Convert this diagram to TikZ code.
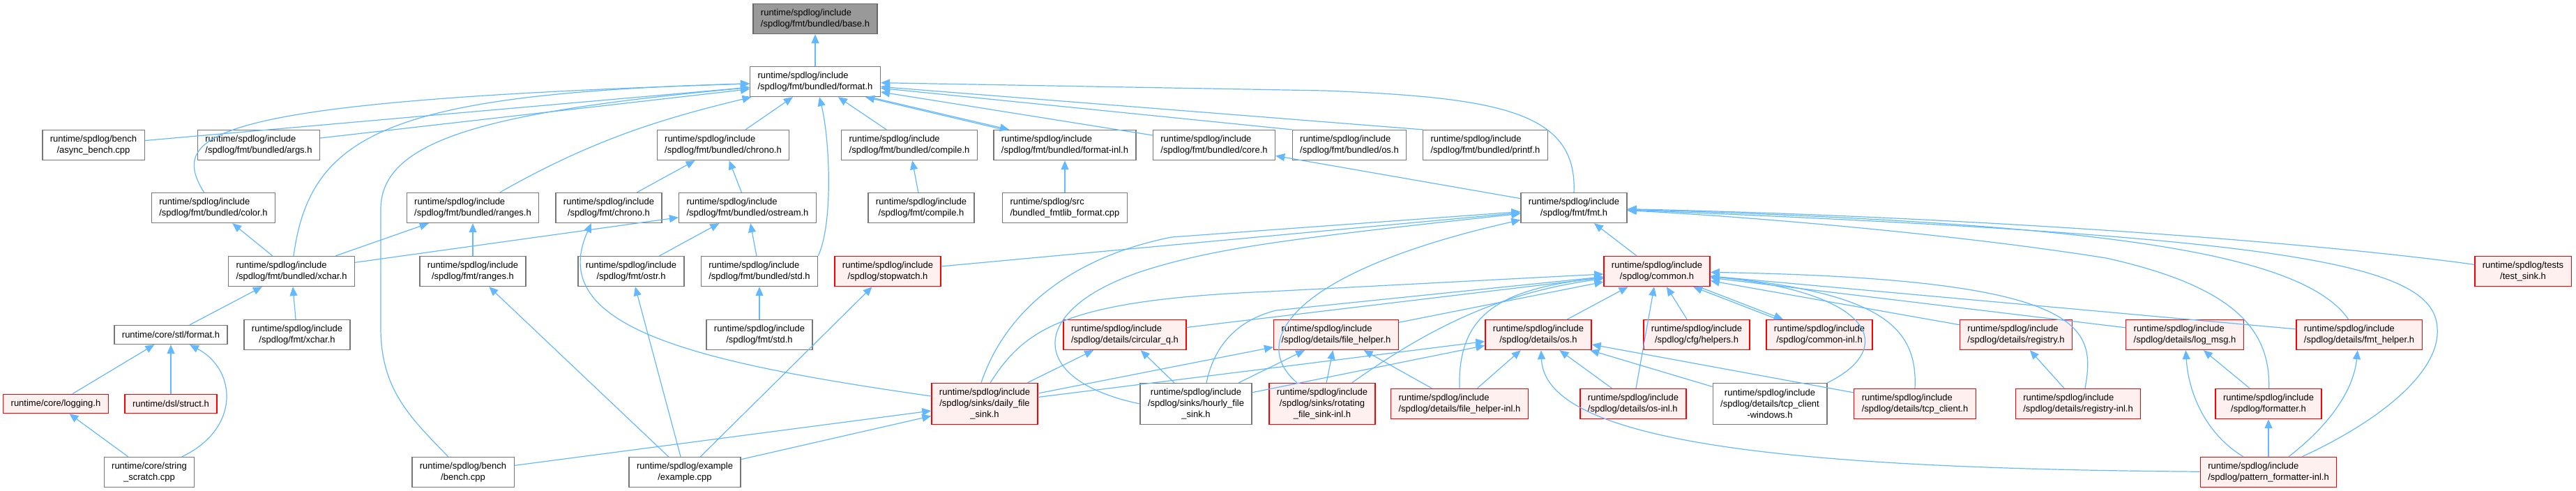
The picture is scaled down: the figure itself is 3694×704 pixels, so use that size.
\documentclass[tikz,border=0pt]{standalone}
\usepackage{fontspec}
\setmainfont{Liberation Sans}
\usetikzlibrary{arrows.meta}
\definecolor{edgeblue}{HTML}{63B8FF}
\definecolor{nodegray}{HTML}{777777}
\definecolor{redfill}{HTML}{FFF0F0}
\definecolor{mainfill}{HTML}{999999}
\definecolor{mainline}{HTML}{666666}
\begin{document}
\begin{tikzpicture}[x=1pt, y=-1pt,
  file/.style={draw=nodegray, fill=white, line width=1.3pt, inner xsep=11pt, inner ysep=0pt, minimum height=43pt, align=center, font=\fontsize{13}{16}\selectfont},
  redfile/.style={file, draw=red, fill=redfill},
  mainfile/.style={file, draw=mainline, fill=mainfill},
  oneline/.style={minimum height=27pt},
  threeline/.style={minimum height=59pt},
  dep/.style={draw=edgeblue, line width=1.2pt, -{Triangle[length=13pt,width=11pt]}}]
\useasboundingbox (0,0) rectangle (3694,704);
% rank 1 and 2
\node[mainfile, align=left] (base) at (1169,27) {runtime/spdlog/include\\/spdlog/fmt/bundled/base.h};
\node[file, align=left] (format) at (1169,117) {runtime/spdlog/include\\/spdlog/fmt/bundled/format.h};
% rank 3
\node[file] (asyncb) at (134,208) {runtime/spdlog/bench\\/async\_bench.cpp};
\node[file, align=left] (args) at (371,208) {runtime/spdlog/include\\/spdlog/fmt/bundled/args.h};
\node[file, align=left] (bchrono) at (1037,208) {runtime/spdlog/include\\/spdlog/fmt/bundled/chrono.h};
\node[file, align=left] (bcompile) at (1304,208) {runtime/spdlog/include\\/spdlog/fmt/bundled/compile.h};
\node[file, align=left] (formatinl) at (1527,208) {runtime/spdlog/include\\/spdlog/fmt/bundled/format-inl.h};
\node[file, align=left] (core) at (1741,208) {runtime/spdlog/include\\/spdlog/fmt/bundled/core.h};
\node[file, align=left] (bos) at (1935,208) {runtime/spdlog/include\\/spdlog/fmt/bundled/os.h};
\node[file, align=left] (printf) at (2130,208) {runtime/spdlog/include\\/spdlog/fmt/bundled/printf.h};
% rank 4
\node[file, align=left] (color) at (306,298) {runtime/spdlog/include\\/spdlog/fmt/bundled/color.h};
\node[file, align=left] (branges) at (678,298) {runtime/spdlog/include\\/spdlog/fmt/bundled/ranges.h};
\node[file] (fchrono) at (873,298) {runtime/spdlog/include\\/spdlog/fmt/chrono.h};
\node[file, align=left] (ostream) at (1072,298) {runtime/spdlog/include\\/spdlog/fmt/bundled/ostream.h};
\node[file] (fcompile) at (1321,298) {runtime/spdlog/include\\/spdlog/fmt/compile.h};
\node[file, align=left] (fmtlib) at (1527,298) {runtime/spdlog/src\\/bundled\_fmtlib\_format.cpp};
\node[file] (fmth) at (2257,298) {runtime/spdlog/include\\/spdlog/fmt/fmt.h};
% rank 5
\node[file, align=left] (bxchar) at (418,389) {runtime/spdlog/include\\/spdlog/fmt/bundled/xchar.h};
\node[file] (franges) at (678,389) {runtime/spdlog/include\\/spdlog/fmt/ranges.h};
\node[file] (fostr) at (905,389) {runtime/spdlog/include\\/spdlog/fmt/ostr.h};
\node[file, align=left] (bstd) at (1089,389) {runtime/spdlog/include\\/spdlog/fmt/bundled/std.h};
\node[redfile] (stopwatch) at (1273,389) {runtime/spdlog/include\\/spdlog/stopwatch.h};
\node[redfile] (common) at (2376,389) {runtime/spdlog/include\\/spdlog/common.h};
\node[redfile] (testsink) at (3618,389) {runtime/spdlog/tests\\/test\_sink.h};
% rank 6
\node[file, oneline] (stlformat) at (245,480) {runtime/core/stl/format.h};
\node[file] (fxchar) at (426,480) {runtime/spdlog/include\\/spdlog/fmt/xchar.h};
\node[file] (fstd) at (1089,480) {runtime/spdlog/include\\/spdlog/fmt/std.h};
\node[redfile, align=left] (circq) at (1613,480) {runtime/spdlog/include\\/spdlog/details/circular\_q.h};
\node[redfile, align=left] (filehelper) at (1916,480) {runtime/spdlog/include\\/spdlog/details/file\_helper.h};
\node[redfile] (osh) at (2206,480) {runtime/spdlog/include\\/spdlog/details/os.h};
\node[redfile] (cfghelpers) at (2433,480) {runtime/spdlog/include\\/spdlog/cfg/helpers.h};
\node[redfile] (commoninl) at (2609,480) {runtime/spdlog/include\\/spdlog/common-inl.h};
\node[redfile, align=left] (registry) at (2891,480) {runtime/spdlog/include\\/spdlog/details/registry.h};
\node[redfile, align=left] (logmsg) at (3133,480) {runtime/spdlog/include\\/spdlog/details/log\_msg.h};
\node[redfile, align=left] (fmthelper) at (3383,480) {runtime/spdlog/include\\/spdlog/details/fmt\_helper.h};
% rank 7
\node[redfile, oneline] (logging) at (80,579) {runtime/core/logging.h};
\node[redfile, oneline] (dslstruct) at (245,579) {runtime/dsl/struct.h};
\node[redfile, threeline] (daily) at (1412,579) {runtime/spdlog/include\\/spdlog/sinks/daily\_file\\\_sink.h};
\node[file, threeline] (hourly) at (1715,579) {runtime/spdlog/include\\/spdlog/sinks/hourly\_file\\\_sink.h};
\node[redfile, threeline] (rotating) at (1896,579) {runtime/spdlog/include\\/spdlog/sinks/rotating\\\_file\_sink-inl.h};
\node[redfile, align=left] (fhinl) at (2093,579) {runtime/spdlog/include\\/spdlog/details/file\_helper-inl.h};
\node[redfile, align=left] (osinl) at (2342,579) {runtime/spdlog/include\\/spdlog/details/os-inl.h};
\node[file, threeline] (tcpwin) at (2538,579) {runtime/spdlog/include\\/spdlog/details/tcp\_client\\-windows.h};
\node[redfile, align=left] (tcp) at (2746,579) {runtime/spdlog/include\\/spdlog/details/tcp\_client.h};
\node[redfile, align=left] (registryinl) at (2980,579) {runtime/spdlog/include\\/spdlog/details/registry-inl.h};
\node[redfile] (formatter) at (3253,579) {runtime/spdlog/include\\/spdlog/formatter.h};
% rank 8
\node[file] (scratch) at (214,677) {runtime/core/string\\\_scratch.cpp};
\node[file] (bench) at (664,677) {runtime/spdlog/bench\\/bench.cpp};
\node[file] (example) at (982,677) {runtime/spdlog/example\\/example.cpp};
\node[redfile, align=left] (patfmt) at (3253,677) {runtime/spdlog/include\\/spdlog/pattern\_formatter-inl.h};
% fmt headers
\draw[dep] (format) -- (base);
\draw[dep] (asyncb) -- (format);
\draw[dep] (args) -- (format);
\draw[dep] (color) .. controls (240,190) and (300,145) .. (format);
\draw[dep] (bxchar) .. controls (445,190) and (560,135) .. (format);
\draw[dep] (bench) .. controls (590,600) and (546,560) .. (546,470) -- (546,300) .. controls (546,200) and (700,160) .. (format);
\draw[dep] (branges) .. controls (850,200) and (950,170) .. (format);
\draw[dep] (bchrono) -- (format);
\draw[dep] (bstd.north east) .. controls (1195,320) and (1190,200) .. ([xshift=6]format.south);
\draw[dep] (bcompile) -- (format);
\draw[dep] ([xshift=-88]formatinl.north) -- ([xshift=72]format.south);
\draw[dep] ([xshift=78]format.south) -- ([xshift=-80]formatinl.north);
\draw[dep] (core) -- (format);
\draw[dep] (bos.north west) -- (format);
\draw[dep] (printf.north west) -- (format);
\draw[dep] (fmth.north) .. controls (2262,160) and (2150,140) .. (1900,130) -- (format);
\draw[dep] (fmth) -- (core);
\draw[dep] (bxchar) -- (color);
\draw[dep] (bxchar) -- (branges);
\draw[dep] (bxchar) -- (ostream);
\draw[dep] (franges) -- (branges);
\draw[dep] (fchrono) -- (bchrono);
\draw[dep] (ostream) -- (bchrono);
\draw[dep] (fcompile) -- (bcompile);
\draw[dep] (fmtlib) -- (formatinl);
\draw[dep] (fostr) -- (ostream);
\draw[dep] (bstd) -- (ostream);
\draw[dep] (fstd) -- (bstd);
\draw[dep] (fxchar) -- (bxchar);
\draw[dep] (stlformat) -- (bxchar);
\draw[dep] (logging) -- (stlformat);
\draw[dep] (dslstruct) -- (stlformat);
\draw[dep] (scratch) -- (logging);
\draw[dep] (scratch) .. controls (345,615) and (340,530) .. (stlformat);
% example and bench
\draw[dep] (example) -- (franges);
\draw[dep] (example) -- (fostr);
\draw[dep] (example) -- (stopwatch);
\draw[dep] (example) -- (daily);
\draw[dep] (bench) -- (daily);
% into fmt.h
\draw[dep] (stopwatch) -- (fmth);
\draw[dep] (daily) .. controls (1000,520) and (780,470) .. ([xshift=-25]fchrono.south);
\draw[dep] ([xshift=-5]daily.north) .. controls (1440,450) and (1530,370) .. (1680,340) -- (fmth);
\draw[dep] (hourly.west) .. controls (1470,545) and (1470,440) .. (1650,385) .. controls (1750,355) and (1850,342) .. (fmth);
\draw[dep] (rotating) .. controls (1790,490) and (1850,390) .. (fmth);
\draw[dep] (common) -- (fmth);
\draw[dep] (testsink) .. controls (3300,345) and (2800,310) .. (fmth);
\draw[dep] (fmthelper) .. controls (3300,360) and (3000,320) .. (fmth);
\draw[dep] (patfmt) .. controls (3420,600) and (3500,530) .. (3495,470) .. controls (3490,380) and (3300,340) .. (fmth);
\draw[dep] (formatter) .. controls (3256,470) and (3200,410) .. (3020,370) .. controls (2800,335) and (2500,310) .. (fmth);
% sinks and details
\draw[dep] (daily) -- (circq);
\draw[dep] (hourly) -- (circq);
\draw[dep] (daily) -- (filehelper);
\draw[dep] (hourly) -- (filehelper);
\draw[dep] (rotating) -- (filehelper);
\draw[dep] (fhinl) -- (filehelper);
\draw[dep] (daily) -- (osh);
\draw[dep] (hourly) -- (osh);
\draw[dep] (fhinl) -- (osh);
\draw[dep] (osinl) -- (osh);
\draw[dep] (patfmt) .. controls (2600,672) and (2215,640) .. ([xshift=4]osh.south);
\draw[dep] (tcpwin) -- (osh);
\draw[dep] (tcp) -- (osh);
% into common.h
\draw[dep] ([xshift=8]daily.north) .. controls (1470,470) and (1530,430) .. (1820,418) -- (common);
\draw[dep] ([xshift=15]hourly.north) .. controls (1740,500) and (1770,460) .. (1830,445) -- (common);
\draw[dep] (circq) -- (common);
\draw[dep] (filehelper) -- (common);
\draw[dep] (rotating) .. controls (2050,470) and (2150,420) .. (common);
\draw[dep] (fhinl.north) .. controls (2090,450) and (2150,415) .. (common);
\draw[dep] (osh) -- (common);
\draw[dep] (osinl) -- (common);
\draw[dep] (cfghelpers) -- (common);
\draw[dep] ([xshift=-60]commoninl.north) -- ([xshift=52]common.south);
\draw[dep] ([xshift=60]common.south) -- ([xshift=-52]commoninl.north);
\draw[dep] (registry) -- (common);
\draw[dep] ([xshift=10]registryinl.north) .. controls (3005,470) and (3000,400) .. (common);
\draw[dep] (registryinl) -- (registry);
\draw[dep] (logmsg) -- (common);
\draw[dep] (fmthelper) -- (common);
\draw[dep] (tcpwin.north east) .. controls (2720,500) and (2690,420) .. (common);
\draw[dep] (tcp.north) .. controls (2750,470) and (2700,420) .. (common);
% formatter side
\draw[dep] (formatter) -- (logmsg);
\draw[dep] (patfmt) .. controls (3160,620) and (3138,560) .. (logmsg);
\draw[dep] (patfmt) -- (formatter);
\draw[dep] (patfmt) .. controls (3340,610) and (3375,560) .. (fmthelper);
\end{tikzpicture}
\end{document}
